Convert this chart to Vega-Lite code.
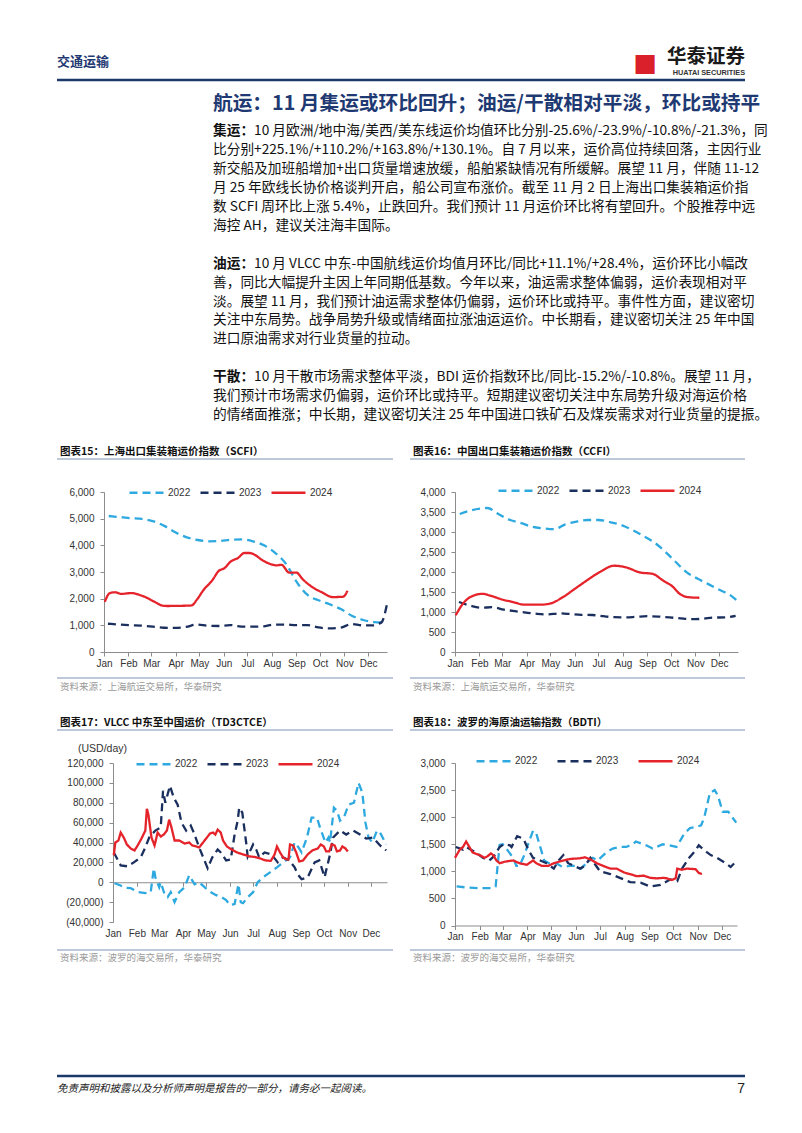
{
"$schema": "https://vega.github.io/schema/vega-lite/v6.json",
"padding": 0,
"background": "white",
"spacing": 0,
"resolve": {"scale": {"color": "independent", "strokeDash": "independent"}},
"config": {
  "view": {"stroke": null},
  "axis": {"labelFont": "Liberation Sans", "labelFontSize": 10, "labelColor": "#333333", "domainColor": "#8c8c8c", "tickColor": "#8c8c8c", "tickSize": 4, "grid": false, "labelFlush": false, "labelOverlap": false, "labelBound": false},
  "axisX": {"labelPadding": 2},
  "axisY": {"labelPadding": 6},
  "legend": {"orient": "none", "direction": "horizontal", "symbolType": "stroke", "symbolSize": 1156, "symbolStrokeWidth": 2.3, "labelFont": "Liberation Sans", "labelFontSize": 10, "labelColor": "#333333", "labelOffset": 3, "columnPadding": 4, "title": null}
},
"datasets": {
  "scfi": [
    {"date":"2022-01-07","year":"2022","value":5100},{"date":"2022-01-21","year":"2022","value":5060},{"date":"2022-02-04","year":"2022","value":5020},{"date":"2022-02-18","year":"2022","value":4990},{"date":"2022-03-04","year":"2022","value":4900},{"date":"2022-03-18","year":"2022","value":4720},{"date":"2022-04-01","year":"2022","value":4480},{"date":"2022-04-15","year":"2022","value":4300},{"date":"2022-04-29","year":"2022","value":4200},{"date":"2022-05-13","year":"2022","value":4150},{"date":"2022-05-27","year":"2022","value":4160},{"date":"2022-06-10","year":"2022","value":4210},{"date":"2022-06-24","year":"2022","value":4220},{"date":"2022-07-08","year":"2022","value":4150},{"date":"2022-07-22","year":"2022","value":4000},{"date":"2022-08-05","year":"2022","value":3720},{"date":"2022-08-19","year":"2022","value":3300},{"date":"2022-09-02","year":"2022","value":2600},{"date":"2022-09-16","year":"2022","value":2120},{"date":"2022-09-30","year":"2022","value":1930},{"date":"2022-10-14","year":"2022","value":1780},{"date":"2022-10-28","year":"2022","value":1600},{"date":"2022-11-11","year":"2022","value":1350},{"date":"2022-11-25","year":"2022","value":1200},{"date":"2022-12-09","year":"2022","value":1120},{"date":"2022-12-23","year":"2022","value":1105},
    {"date":"2023-01-06","year":"2023","value":1060},{"date":"2023-01-20","year":"2023","value":1030},{"date":"2023-02-03","year":"2023","value":1005},{"date":"2023-02-17","year":"2023","value":990},{"date":"2023-03-03","year":"2023","value":950},{"date":"2023-03-17","year":"2023","value":910},{"date":"2023-03-31","year":"2023","value":905},{"date":"2023-04-14","year":"2023","value":940},{"date":"2023-04-28","year":"2023","value":1030},{"date":"2023-05-12","year":"2023","value":985},{"date":"2023-05-26","year":"2023","value":975},{"date":"2023-06-09","year":"2023","value":1010},{"date":"2023-06-23","year":"2023","value":955},{"date":"2023-07-07","year":"2023","value":950},{"date":"2023-07-21","year":"2023","value":960},{"date":"2023-08-04","year":"2023","value":1030},{"date":"2023-08-18","year":"2023","value":1030},{"date":"2023-09-01","year":"2023","value":1010},{"date":"2023-09-15","year":"2023","value":1010},{"date":"2023-09-29","year":"2023","value":920},{"date":"2023-10-13","year":"2023","value":886},{"date":"2023-10-27","year":"2023","value":910},{"date":"2023-11-10","year":"2023","value":1050},{"date":"2023-11-24","year":"2023","value":1000},{"date":"2023-12-08","year":"2023","value":1000},{"date":"2023-12-12","year":"2023","value":1040},{"date":"2023-12-18","year":"2023","value":1107},{"date":"2023-12-25","year":"2023","value":1790},
    {"date":"2024-01-02","year":"2024","value":1880},{"date":"2024-01-08","year":"2024","value":2200},{"date":"2024-01-15","year":"2024","value":2240},{"date":"2024-01-23","year":"2024","value":2180},{"date":"2024-02-05","year":"2024","value":2210},{"date":"2024-02-17","year":"2024","value":2120},{"date":"2024-02-24","year":"2024","value":2040},{"date":"2024-03-02","year":"2024","value":1930},{"date":"2024-03-09","year":"2024","value":1820},{"date":"2024-03-15","year":"2024","value":1740},{"date":"2024-03-22","year":"2024","value":1725},{"date":"2024-04-01","year":"2024","value":1730},{"date":"2024-04-12","year":"2024","value":1735},{"date":"2024-04-21","year":"2024","value":1745},{"date":"2024-04-28","year":"2024","value":1970},{"date":"2024-05-06","year":"2024","value":2315},{"date":"2024-05-18","year":"2024","value":2715},{"date":"2024-05-25","year":"2024","value":3025},{"date":"2024-06-02","year":"2024","value":3150},{"date":"2024-06-10","year":"2024","value":3400},{"date":"2024-06-19","year":"2024","value":3525},{"date":"2024-06-27","year":"2024","value":3712},{"date":"2024-07-04","year":"2024","value":3712},{"date":"2024-07-10","year":"2024","value":3650},{"date":"2024-07-19","year":"2024","value":3460},{"date":"2024-07-29","year":"2024","value":3310},{"date":"2024-08-07","year":"2024","value":3250},{"date":"2024-08-13","year":"2024","value":3270},{"date":"2024-08-23","year":"2024","value":2978},{"date":"2024-09-01","year":"2024","value":2978},{"date":"2024-09-09","year":"2024","value":2730},{"date":"2024-09-22","year":"2024","value":2420},{"date":"2024-10-04","year":"2024","value":2230},{"date":"2024-10-17","year":"2024","value":2060},{"date":"2024-10-30","year":"2024","value":2070},{"date":"2024-11-05","year":"2024","value":2300}
  ],
  "ccfi": [
    {"date":"2022-01-07","year":"2022","value":3450},{"date":"2022-01-21","year":"2022","value":3540},{"date":"2022-02-04","year":"2022","value":3590},{"date":"2022-02-11","year":"2022","value":3600},{"date":"2022-02-25","year":"2022","value":3450},{"date":"2022-03-11","year":"2022","value":3300},{"date":"2022-03-25","year":"2022","value":3220},{"date":"2022-04-08","year":"2022","value":3130},{"date":"2022-04-22","year":"2022","value":3090},{"date":"2022-05-06","year":"2022","value":3070},{"date":"2022-05-20","year":"2022","value":3190},{"date":"2022-06-03","year":"2022","value":3260},{"date":"2022-06-17","year":"2022","value":3300},{"date":"2022-07-01","year":"2022","value":3300},{"date":"2022-07-15","year":"2022","value":3250},{"date":"2022-07-29","year":"2022","value":3180},{"date":"2022-08-12","year":"2022","value":3060},{"date":"2022-08-26","year":"2022","value":2910},{"date":"2022-09-09","year":"2022","value":2750},{"date":"2022-09-23","year":"2022","value":2520},{"date":"2022-10-07","year":"2022","value":2250},{"date":"2022-10-21","year":"2022","value":1990},{"date":"2022-11-04","year":"2022","value":1830},{"date":"2022-11-18","year":"2022","value":1690},{"date":"2022-12-02","year":"2022","value":1550},{"date":"2022-12-16","year":"2022","value":1410},{"date":"2022-12-23","year":"2022","value":1300},
    {"date":"2023-01-06","year":"2023","value":1250},{"date":"2023-01-20","year":"2023","value":1160},{"date":"2023-02-03","year":"2023","value":1105},{"date":"2023-02-17","year":"2023","value":1120},{"date":"2023-03-03","year":"2023","value":1060},{"date":"2023-03-17","year":"2023","value":1020},{"date":"2023-03-31","year":"2023","value":985},{"date":"2023-04-14","year":"2023","value":955},{"date":"2023-04-28","year":"2023","value":940},{"date":"2023-05-12","year":"2023","value":965},{"date":"2023-05-26","year":"2023","value":950},{"date":"2023-06-09","year":"2023","value":930},{"date":"2023-06-23","year":"2023","value":925},{"date":"2023-07-07","year":"2023","value":895},{"date":"2023-07-21","year":"2023","value":870},{"date":"2023-08-04","year":"2023","value":865},{"date":"2023-08-18","year":"2023","value":880},{"date":"2023-09-01","year":"2023","value":895},{"date":"2023-09-15","year":"2023","value":885},{"date":"2023-09-29","year":"2023","value":865},{"date":"2023-10-13","year":"2023","value":840},{"date":"2023-10-27","year":"2023","value":820},{"date":"2023-11-10","year":"2023","value":830},{"date":"2023-11-24","year":"2023","value":860},{"date":"2023-12-08","year":"2023","value":865},{"date":"2023-12-22","year":"2023","value":905},
    {"date":"2024-01-02","year":"2024","value":920},{"date":"2024-01-11","year":"2024","value":1207},{"date":"2024-01-22","year":"2024","value":1389},{"date":"2024-02-05","year":"2024","value":1455},{"date":"2024-02-14","year":"2024","value":1413},{"date":"2024-03-02","year":"2024","value":1306},{"date":"2024-03-15","year":"2024","value":1248},{"date":"2024-03-29","year":"2024","value":1182},{"date":"2024-04-17","year":"2024","value":1182},{"date":"2024-04-30","year":"2024","value":1207},{"date":"2024-05-17","year":"2024","value":1373},{"date":"2024-06-01","year":"2024","value":1579},{"date":"2024-06-16","year":"2024","value":1786},{"date":"2024-07-02","year":"2024","value":1992},{"date":"2024-07-21","year":"2024","value":2157},{"date":"2024-08-05","year":"2024","value":2117},{"date":"2024-08-22","year":"2024","value":1992},{"date":"2024-09-08","year":"2024","value":1951},{"date":"2024-09-21","year":"2024","value":1786},{"date":"2024-10-03","year":"2024","value":1637},{"date":"2024-10-12","year":"2024","value":1455},{"date":"2024-10-22","year":"2024","value":1373},{"date":"2024-11-06","year":"2024","value":1356}
  ],
  "td3c": [
    {"date":"2022-01-03","year":"2022","value":-1000},{"date":"2022-01-10","year":"2022","value":-3000},{"date":"2022-01-17","year":"2022","value":-5600},{"date":"2022-01-24","year":"2022","value":-6000},{"date":"2022-02-03","year":"2022","value":-10000},{"date":"2022-02-12","year":"2022","value":-11000},{"date":"2022-02-19","year":"2022","value":-10000},{"date":"2022-02-23","year":"2022","value":14000},{"date":"2022-02-25","year":"2022","value":5000},{"date":"2022-03-01","year":"2022","value":-5000},{"date":"2022-03-03","year":"2022","value":0},{"date":"2022-03-08","year":"2022","value":-12000},{"date":"2022-03-12","year":"2022","value":-15000},{"date":"2022-03-16","year":"2022","value":-10000},{"date":"2022-03-21","year":"2022","value":-20000},{"date":"2022-03-27","year":"2022","value":-10000},{"date":"2022-04-03","year":"2022","value":-5000},{"date":"2022-04-09","year":"2022","value":7000},{"date":"2022-04-16","year":"2022","value":-2000},{"date":"2022-04-22","year":"2022","value":0},{"date":"2022-04-29","year":"2022","value":-5000},{"date":"2022-05-05","year":"2022","value":-9000},{"date":"2022-05-14","year":"2022","value":-13000},{"date":"2022-05-21","year":"2022","value":-15000},{"date":"2022-05-27","year":"2022","value":-18000},{"date":"2022-06-01","year":"2022","value":-23000},{"date":"2022-06-07","year":"2022","value":-22000},{"date":"2022-06-12","year":"2022","value":-2000},{"date":"2022-06-15","year":"2022","value":-20000},{"date":"2022-06-18","year":"2022","value":-21000},{"date":"2022-06-24","year":"2022","value":-15000},{"date":"2022-07-01","year":"2022","value":-10000},{"date":"2022-07-07","year":"2022","value":0},{"date":"2022-07-14","year":"2022","value":5000},{"date":"2022-07-23","year":"2022","value":10000},{"date":"2022-08-01","year":"2022","value":15000},{"date":"2022-08-09","year":"2022","value":20000},{"date":"2022-08-18","year":"2022","value":25000},{"date":"2022-08-24","year":"2022","value":40000},{"date":"2022-08-29","year":"2022","value":35000},{"date":"2022-09-02","year":"2022","value":30000},{"date":"2022-09-09","year":"2022","value":45000},{"date":"2022-09-15","year":"2022","value":65000},{"date":"2022-09-22","year":"2022","value":65000},{"date":"2022-09-26","year":"2022","value":55000},{"date":"2022-10-03","year":"2022","value":40000},{"date":"2022-10-07","year":"2022","value":45000},{"date":"2022-10-09","year":"2022","value":40000},{"date":"2022-10-14","year":"2022","value":75000},{"date":"2022-10-18","year":"2022","value":72000},{"date":"2022-10-22","year":"2022","value":62000},{"date":"2022-10-27","year":"2022","value":65000},{"date":"2022-11-02","year":"2022","value":78000},{"date":"2022-11-09","year":"2022","value":80000},{"date":"2022-11-15","year":"2022","value":100000},{"date":"2022-11-20","year":"2022","value":90000},{"date":"2022-11-24","year":"2022","value":60000},{"date":"2022-11-28","year":"2022","value":45000},{"date":"2022-12-03","year":"2022","value":40000},{"date":"2022-12-09","year":"2022","value":52000},{"date":"2022-12-13","year":"2022","value":50000},{"date":"2022-12-21","year":"2022","value":38000},
    {"date":"2023-01-02","year":"2023","value":30000},{"date":"2023-01-11","year":"2023","value":17000},{"date":"2023-01-20","year":"2023","value":16000},{"date":"2023-01-28","year":"2023","value":20000},{"date":"2023-02-06","year":"2023","value":25000},{"date":"2023-02-12","year":"2023","value":35000},{"date":"2023-02-17","year":"2023","value":45000},{"date":"2023-02-25","year":"2023","value":52000},{"date":"2023-03-03","year":"2023","value":55000},{"date":"2023-03-06","year":"2023","value":92000},{"date":"2023-03-09","year":"2023","value":80000},{"date":"2023-03-15","year":"2023","value":97000},{"date":"2023-03-20","year":"2023","value":85000},{"date":"2023-03-25","year":"2023","value":78000},{"date":"2023-03-30","year":"2023","value":60000},{"date":"2023-04-05","year":"2023","value":52000},{"date":"2023-04-11","year":"2023","value":57000},{"date":"2023-04-15","year":"2023","value":50000},{"date":"2023-04-22","year":"2023","value":35000},{"date":"2023-05-03","year":"2023","value":14000},{"date":"2023-05-09","year":"2023","value":25000},{"date":"2023-05-16","year":"2023","value":33000},{"date":"2023-05-20","year":"2023","value":30000},{"date":"2023-05-27","year":"2023","value":22000},{"date":"2023-06-02","year":"2023","value":23000},{"date":"2023-06-07","year":"2023","value":48000},{"date":"2023-06-11","year":"2023","value":62000},{"date":"2023-06-13","year":"2023","value":75000},{"date":"2023-06-17","year":"2023","value":70000},{"date":"2023-06-22","year":"2023","value":40000},{"date":"2023-06-24","year":"2023","value":26000},{"date":"2023-07-01","year":"2023","value":38000},{"date":"2023-07-05","year":"2023","value":33000},{"date":"2023-07-09","year":"2023","value":25000},{"date":"2023-07-16","year":"2023","value":30000},{"date":"2023-07-25","year":"2023","value":28000},{"date":"2023-08-02","year":"2023","value":20000},{"date":"2023-08-09","year":"2023","value":25000},{"date":"2023-08-17","year":"2023","value":22000},{"date":"2023-08-24","year":"2023","value":15000},{"date":"2023-08-28","year":"2023","value":8000},{"date":"2023-09-02","year":"2023","value":3000},{"date":"2023-09-10","year":"2023","value":5000},{"date":"2023-09-19","year":"2023","value":20000},{"date":"2023-09-25","year":"2023","value":22000},{"date":"2023-10-02","year":"2023","value":5000},{"date":"2023-10-04","year":"2023","value":12000},{"date":"2023-10-09","year":"2023","value":28000},{"date":"2023-10-13","year":"2023","value":45000},{"date":"2023-10-22","year":"2023","value":52000},{"date":"2023-10-30","year":"2023","value":48000},{"date":"2023-11-08","year":"2023","value":52000},{"date":"2023-11-17","year":"2023","value":48000},{"date":"2023-11-25","year":"2023","value":44000},{"date":"2023-12-04","year":"2023","value":45000},{"date":"2023-12-13","year":"2023","value":37000},{"date":"2023-12-21","year":"2023","value":32000},
    {"date":"2024-01-02","year":"2024","value":27000},{"date":"2024-01-04","year":"2024","value":40000},{"date":"2024-01-08","year":"2024","value":42000},{"date":"2024-01-11","year":"2024","value":50000},{"date":"2024-01-15","year":"2024","value":45000},{"date":"2024-01-19","year":"2024","value":38000},{"date":"2024-01-24","year":"2024","value":34000},{"date":"2024-01-29","year":"2024","value":32000},{"date":"2024-02-02","year":"2024","value":37000},{"date":"2024-02-07","year":"2024","value":44000},{"date":"2024-02-12","year":"2024","value":52000},{"date":"2024-02-14","year":"2024","value":74000},{"date":"2024-02-16","year":"2024","value":68000},{"date":"2024-02-20","year":"2024","value":45000},{"date":"2024-02-24","year":"2024","value":37000},{"date":"2024-02-28","year":"2024","value":50000},{"date":"2024-03-03","year":"2024","value":46000},{"date":"2024-03-07","year":"2024","value":48000},{"date":"2024-03-11","year":"2024","value":52000},{"date":"2024-03-14","year":"2024","value":63000},{"date":"2024-03-17","year":"2024","value":55000},{"date":"2024-03-21","year":"2024","value":42000},{"date":"2024-03-27","year":"2024","value":42000},{"date":"2024-04-03","year":"2024","value":39000},{"date":"2024-04-09","year":"2024","value":40000},{"date":"2024-04-13","year":"2024","value":37000},{"date":"2024-04-18","year":"2024","value":36000},{"date":"2024-04-22","year":"2024","value":35000},{"date":"2024-04-26","year":"2024","value":39000},{"date":"2024-04-30","year":"2024","value":43000},{"date":"2024-05-06","year":"2024","value":49000},{"date":"2024-05-10","year":"2024","value":50000},{"date":"2024-05-13","year":"2024","value":48000},{"date":"2024-05-16","year":"2024","value":53000},{"date":"2024-05-20","year":"2024","value":50000},{"date":"2024-05-23","year":"2024","value":42000},{"date":"2024-05-28","year":"2024","value":36000},{"date":"2024-06-03","year":"2024","value":33000},{"date":"2024-06-10","year":"2024","value":30000},{"date":"2024-06-18","year":"2024","value":28000},{"date":"2024-06-26","year":"2024","value":26000},{"date":"2024-07-03","year":"2024","value":25500},{"date":"2024-07-10","year":"2024","value":24000},{"date":"2024-07-17","year":"2024","value":22000},{"date":"2024-07-24","year":"2024","value":21500},{"date":"2024-07-29","year":"2024","value":28000},{"date":"2024-08-01","year":"2024","value":36000},{"date":"2024-08-05","year":"2024","value":30000},{"date":"2024-08-09","year":"2024","value":25000},{"date":"2024-08-13","year":"2024","value":23000},{"date":"2024-08-16","year":"2024","value":23000},{"date":"2024-08-18","year":"2024","value":38000},{"date":"2024-08-22","year":"2024","value":37000},{"date":"2024-08-26","year":"2024","value":30000},{"date":"2024-08-30","year":"2024","value":21000},{"date":"2024-09-04","year":"2024","value":22000},{"date":"2024-09-10","year":"2024","value":28000},{"date":"2024-09-16","year":"2024","value":32000},{"date":"2024-09-23","year":"2024","value":34000},{"date":"2024-09-27","year":"2024","value":38000},{"date":"2024-10-01","year":"2024","value":36000},{"date":"2024-10-04","year":"2024","value":31000},{"date":"2024-10-08","year":"2024","value":31000},{"date":"2024-10-11","year":"2024","value":38000},{"date":"2024-10-15","year":"2024","value":37000},{"date":"2024-10-18","year":"2024","value":31000},{"date":"2024-10-22","year":"2024","value":32000},{"date":"2024-10-25","year":"2024","value":36000},{"date":"2024-10-29","year":"2024","value":34000},{"date":"2024-11-01","year":"2024","value":31000}
  ],
  "bdti": [
    {"date":"2022-01-03","year":"2022","value":722},{"date":"2022-01-17","year":"2022","value":700},{"date":"2022-02-01","year":"2022","value":690},{"date":"2022-02-17","year":"2022","value":690},{"date":"2022-02-21","year":"2022","value":720},{"date":"2022-02-26","year":"2022","value":1488},{"date":"2022-03-01","year":"2022","value":1500},{"date":"2022-03-09","year":"2022","value":1350},{"date":"2022-03-14","year":"2022","value":1250},{"date":"2022-03-18","year":"2022","value":1100},{"date":"2022-03-22","year":"2022","value":1100},{"date":"2022-03-28","year":"2022","value":1300},{"date":"2022-04-03","year":"2022","value":1550},{"date":"2022-04-08","year":"2022","value":1750},{"date":"2022-04-12","year":"2022","value":1700},{"date":"2022-04-16","year":"2022","value":1500},{"date":"2022-04-22","year":"2022","value":1200},{"date":"2022-04-28","year":"2022","value":1150},{"date":"2022-05-07","year":"2022","value":1150},{"date":"2022-05-15","year":"2022","value":1080},{"date":"2022-05-24","year":"2022","value":1100},{"date":"2022-06-01","year":"2022","value":1100},{"date":"2022-06-07","year":"2022","value":1050},{"date":"2022-06-14","year":"2022","value":1150},{"date":"2022-06-22","year":"2022","value":1250},{"date":"2022-06-28","year":"2022","value":1200},{"date":"2022-07-09","year":"2022","value":1350},{"date":"2022-07-17","year":"2022","value":1420},{"date":"2022-07-26","year":"2022","value":1450},{"date":"2022-08-03","year":"2022","value":1450},{"date":"2022-08-11","year":"2022","value":1500},{"date":"2022-08-15","year":"2022","value":1550},{"date":"2022-08-28","year":"2022","value":1480},{"date":"2022-09-05","year":"2022","value":1420},{"date":"2022-09-18","year":"2022","value":1500},{"date":"2022-09-26","year":"2022","value":1480},{"date":"2022-10-05","year":"2022","value":1450},{"date":"2022-10-09","year":"2022","value":1550},{"date":"2022-10-15","year":"2022","value":1700},{"date":"2022-10-22","year":"2022","value":1800},{"date":"2022-10-30","year":"2022","value":1820},{"date":"2022-11-05","year":"2022","value":1850},{"date":"2022-11-09","year":"2022","value":2000},{"date":"2022-11-16","year":"2022","value":2450},{"date":"2022-11-22","year":"2022","value":2500},{"date":"2022-11-26","year":"2022","value":2400},{"date":"2022-12-02","year":"2022","value":2100},{"date":"2022-12-09","year":"2022","value":2100},{"date":"2022-12-19","year":"2022","value":1900},
    {"date":"2023-01-02","year":"2023","value":1450},{"date":"2023-01-11","year":"2023","value":1400},{"date":"2023-01-15","year":"2023","value":1450},{"date":"2023-01-21","year":"2023","value":1400},{"date":"2023-01-27","year":"2023","value":1350},{"date":"2023-02-05","year":"2023","value":1250},{"date":"2023-02-13","year":"2023","value":1200},{"date":"2023-02-19","year":"2023","value":1280},{"date":"2023-02-26","year":"2023","value":1450},{"date":"2023-03-02","year":"2023","value":1500},{"date":"2023-03-10","year":"2023","value":1480},{"date":"2023-03-12","year":"2023","value":1450},{"date":"2023-03-19","year":"2023","value":1650},{"date":"2023-03-27","year":"2023","value":1600},{"date":"2023-04-02","year":"2023","value":1400},{"date":"2023-04-08","year":"2023","value":1250},{"date":"2023-04-17","year":"2023","value":1200},{"date":"2023-04-25","year":"2023","value":1150},{"date":"2023-05-04","year":"2023","value":1050},{"date":"2023-05-10","year":"2023","value":1200},{"date":"2023-05-16","year":"2023","value":1300},{"date":"2023-05-22","year":"2023","value":1150},{"date":"2023-06-06","year":"2023","value":1050},{"date":"2023-06-12","year":"2023","value":1100},{"date":"2023-06-19","year":"2023","value":1250},{"date":"2023-07-01","year":"2023","value":1000},{"date":"2023-07-14","year":"2023","value":950},{"date":"2023-07-26","year":"2023","value":880},{"date":"2023-08-08","year":"2023","value":800},{"date":"2023-08-21","year":"2023","value":790},{"date":"2023-09-02","year":"2023","value":720},{"date":"2023-09-15","year":"2023","value":750},{"date":"2023-09-27","year":"2023","value":850},{"date":"2023-10-06","year":"2023","value":820},{"date":"2023-10-12","year":"2023","value":1050},{"date":"2023-10-21","year":"2023","value":1250},{"date":"2023-10-27","year":"2023","value":1350},{"date":"2023-11-02","year":"2023","value":1480},{"date":"2023-11-08","year":"2023","value":1400},{"date":"2023-11-17","year":"2023","value":1300},{"date":"2023-11-25","year":"2023","value":1250},{"date":"2023-12-06","year":"2023","value":1150},{"date":"2023-12-12","year":"2023","value":1080},{"date":"2023-12-20","year":"2023","value":1200},
    {"date":"2024-01-01","year":"2024","value":1250},{"date":"2024-01-07","year":"2024","value":1400},{"date":"2024-01-11","year":"2024","value":1450},{"date":"2024-01-15","year":"2024","value":1550},{"date":"2024-01-17","year":"2024","value":1500},{"date":"2024-01-19","year":"2024","value":1450},{"date":"2024-01-23","year":"2024","value":1350},{"date":"2024-01-28","year":"2024","value":1320},{"date":"2024-02-01","year":"2024","value":1300},{"date":"2024-02-07","year":"2024","value":1250},{"date":"2024-02-11","year":"2024","value":1280},{"date":"2024-02-15","year":"2024","value":1330},{"date":"2024-02-18","year":"2024","value":1300},{"date":"2024-02-22","year":"2024","value":1200},{"date":"2024-02-26","year":"2024","value":1150},{"date":"2024-03-04","year":"2024","value":1180},{"date":"2024-03-14","year":"2024","value":1200},{"date":"2024-03-22","year":"2024","value":1150},{"date":"2024-03-31","year":"2024","value":1120},{"date":"2024-04-08","year":"2024","value":1200},{"date":"2024-04-12","year":"2024","value":1150},{"date":"2024-04-19","year":"2024","value":1100},{"date":"2024-04-27","year":"2024","value":1100},{"date":"2024-05-04","year":"2024","value":1150},{"date":"2024-05-16","year":"2024","value":1200},{"date":"2024-05-25","year":"2024","value":1230},{"date":"2024-06-06","year":"2024","value":1240},{"date":"2024-06-12","year":"2024","value":1260},{"date":"2024-06-19","year":"2024","value":1220},{"date":"2024-06-27","year":"2024","value":1150},{"date":"2024-07-05","year":"2024","value":1100},{"date":"2024-07-14","year":"2024","value":1050},{"date":"2024-07-22","year":"2024","value":1050},{"date":"2024-07-31","year":"2024","value":980},{"date":"2024-08-12","year":"2024","value":930},{"date":"2024-08-16","year":"2024","value":910},{"date":"2024-08-25","year":"2024","value":920},{"date":"2024-09-02","year":"2024","value":880},{"date":"2024-09-10","year":"2024","value":870},{"date":"2024-09-19","year":"2024","value":880},{"date":"2024-09-23","year":"2024","value":870},{"date":"2024-09-29","year":"2024","value":840},{"date":"2024-10-04","year":"2024","value":870},{"date":"2024-10-06","year":"2024","value":1050},{"date":"2024-10-12","year":"2024","value":1030},{"date":"2024-10-18","year":"2024","value":1050},{"date":"2024-10-29","year":"2024","value":1040},{"date":"2024-11-02","year":"2024","value":970},{"date":"2024-11-06","year":"2024","value":950}
  ]
},
"vconcat": [
  {"hconcat": [
    {"width": 57, "height": 1, "data": {"values": []}, "mark": "point", "encoding": {}},
    {"width": 688, "height": 80,
     "data": {"values": [{"section": "交通运输", "brand": "华泰证券", "brandEn": "HUATAI SECURITIES", "icon": "■"}]},
     "encoding": {
       "x": {"datum": 0, "type": "quantitative", "scale": {"domain": [0, 1]}, "axis": null},
       "y": {"datum": 0, "type": "quantitative", "scale": {"domain": [0, 1]}, "axis": null}
     },
     "layer": [
       {"mark": {"type": "text", "align": "left", "baseline": "middle", "dy": -18, "font": "Noto Sans CJK SC", "fontSize": 13, "fontWeight": "bold", "color": "#1F3A73"}, "encoding": {"text": {"field": "section"}}},
       {"mark": {"type": "text", "align": "right", "baseline": "middle", "dy": -23.5, "font": "Noto Sans CJK SC", "fontSize": 19.5, "fontWeight": "bold", "color": "#1a1a1a"}, "encoding": {"x": {"datum": 1, "type": "quantitative"}, "text": {"field": "brand"}}},
       {"mark": {"type": "text", "align": "right", "baseline": "middle", "dy": -7, "font": "Liberation Sans", "fontSize": 7.3, "fontWeight": "bold", "color": "#333333"}, "encoding": {"x": {"datum": 1, "type": "quantitative"}, "text": {"field": "brandEn"}}},
       {"mark": {"type": "text", "align": "right", "baseline": "middle", "dx": -88, "dy": -17, "font": "DejaVu Sans", "fontSize": 25, "color": "#D9202B"}, "encoding": {"x": {"datum": 1, "type": "quantitative"}, "text": {"field": "icon"}}},
       {"mark": {"type": "rule", "color": "#1B3A6B", "strokeWidth": 2.5}, "encoding": {"x": null}}
     ]
    }
  ], "spacing": 0, "bounds": "flush"},
  {"hconcat": [
    {"width": 213, "height": 1, "data": {"values": []}, "mark": "point", "encoding": {}},
    {"width": 549, "height": 40,
     "data": {"values": [{"title": "航运：11 月集运或环比回升；油运/干散相对平淡，环比或持平"}]},
     "mark": {"type": "text", "align": "left", "baseline": "middle", "dy": 2, "font": "Noto Sans CJK SC", "fontSize": 19.7, "fontWeight": "bold", "color": "#1F3A73"},
     "encoding": {
       "x": {"datum": 0, "type": "quantitative", "scale": {"domain": [0, 1]}, "axis": null},
       "y": {"datum": 0.5, "type": "quantitative", "scale": {"domain": [0, 1]}, "axis": null},
       "text": {"field": "title"}
     }
    }
  ], "spacing": 0, "bounds": "flush"},
  {"hconcat": [
    {"width": 213, "height": 1, "data": {"values": []}, "mark": "point", "encoding": {}},
    {"width": 549, "height": 302.4,
     "data": {"values": [
       {"line": 0, "lead": "集运：", "text": "10 月欧洲/地中海/美西/美东线运价均值环比分别-25.6%/-23.9%/-10.8%/-21.3%，同"},
       {"line": 1, "lead": "", "text": "比分别+225.1%/+110.2%/+163.8%/+130.1%。自 7 月以来，运价高位持续回落，主因行业"},
       {"line": 2, "lead": "", "text": "新交船及加班船增加+出口货量增速放缓，船舶紧缺情况有所缓解。展望 11 月，伴随 11-12"},
       {"line": 3, "lead": "", "text": "月 25 年欧线长协价格谈判开启，船公司宣布涨价。截至 11 月 2 日上海出口集装箱运价指"},
       {"line": 4, "lead": "", "text": "数 SCFI 周环比上涨 5.4%，止跌回升。我们预计 11 月运价环比将有望回升。个股推荐中远"},
       {"line": 5, "lead": "", "text": "海控 AH，建议关注海丰国际。"},
       {"line": 7, "lead": "油运：", "text": "10 月 VLCC 中东-中国航线运价均值月环比/同比+11.1%/+28.4%，运价环比小幅改"},
       {"line": 8, "lead": "", "text": "善，同比大幅提升主因上年同期低基数。今年以来，油运需求整体偏弱，运价表现相对平"},
       {"line": 9, "lead": "", "text": "淡。展望 11 月，我们预计油运需求整体仍偏弱，运价环比或持平。事件性方面，建议密切"},
       {"line": 10, "lead": "", "text": "关注中东局势。战争局势升级或情绪面拉涨油运运价。中长期看，建议密切关注 25 年中国"},
       {"line": 11, "lead": "", "text": "进口原油需求对行业货量的拉动。"},
       {"line": 13, "lead": "干散：", "text": "10 月干散市场需求整体平淡，BDI 运价指数环比/同比-15.2%/-10.8%。展望 11 月，"},
       {"line": 14, "lead": "", "text": "我们预计市场需求仍偏弱，运价环比或持平。短期建议密切关注中东局势升级对海运价格"},
       {"line": 15, "lead": "", "text": "的情绪面推涨；中长期，建议密切关注 25 年中国进口铁矿石及煤炭需求对行业货量的提振。"}
     ]},
     "encoding": {
       "x": {"datum": 0, "type": "quantitative", "scale": {"domain": [0, 1]}, "axis": null},
       "y": {"field": "line", "type": "ordinal", "scale": {"type": "band", "domain": [0,1,2,3,4,5,6,7,8,9,10,11,12,13,14,15], "paddingInner": 0, "paddingOuter": 0}, "axis": null}
     },
     "layer": [
       {"transform": [{"filter": "datum.lead != ''"}], "mark": {"type": "text", "align": "left", "baseline": "middle", "font": "Noto Sans CJK SC", "fontSize": 13.7, "fontWeight": "bold", "color": "#111111"}, "encoding": {"text": {"field": "lead"}}},
       {"transform": [{"filter": "datum.lead != ''"}], "mark": {"type": "text", "align": "left", "baseline": "middle", "dx": 41.1, "font": "Noto Sans CJK SC", "fontSize": 13.7, "color": "#111111"}, "encoding": {"text": {"field": "text"}}},
       {"transform": [{"filter": "datum.lead == ''"}], "mark": {"type": "text", "align": "left", "baseline": "middle", "font": "Noto Sans CJK SC", "fontSize": 13.7, "color": "#111111"}, "encoding": {"text": {"field": "text"}}}
     ]
    }
  ], "spacing": 0, "bounds": "flush"},
  {"hconcat": [
    {"width": 57, "height": 1, "data": {"values": []}, "mark": "point", "encoding": {}},
    {"width": 336, "height": 34, "data": {"values": [{"label": "图表15：上海出口集装箱运价指数（SCFI）"}]},
     "encoding": {"y": {"datum": 0, "type": "quantitative", "scale": {"domain": [0, 1]}, "axis": null}},
     "layer": [
       {"mark": {"type": "text", "align": "left", "baseline": "middle", "dx": 3, "dy": -7.5, "font": "Noto Sans CJK SC", "fontSize": 10.5, "fontWeight": "bold", "color": "#111111"}, "encoding": {"x": {"datum": 0, "type": "quantitative", "scale": {"domain": [0, 1]}, "axis": null}, "text": {"field": "label"}}},
       {"mark": {"type": "rule", "color": "#A7B7CC", "strokeWidth": 1.5}, "encoding": {}}
     ]},
    {"width": 17, "height": 1, "data": {"values": []}, "mark": "point", "encoding": {}},
    {"width": 335, "height": 34, "data": {"values": [{"label": "图表16：中国出口集装箱运价指数（CCFI）"}]},
     "encoding": {"y": {"datum": 0, "type": "quantitative", "scale": {"domain": [0, 1]}, "axis": null}},
     "layer": [
       {"mark": {"type": "text", "align": "left", "baseline": "middle", "dx": 3, "dy": -7.5, "font": "Noto Sans CJK SC", "fontSize": 10.5, "fontWeight": "bold", "color": "#111111"}, "encoding": {"x": {"datum": 0, "type": "quantitative", "scale": {"domain": [0, 1]}, "axis": null}, "text": {"field": "label"}}},
       {"mark": {"type": "rule", "color": "#A7B7CC", "strokeWidth": 1.5}, "encoding": {}}
     ]}
  ], "spacing": 0, "bounds": "flush"},
  {"width": 1, "height": 11.6, "data": {"values": []}, "mark": "point", "encoding": {}},
  {"hconcat": [
    {"width": 104, "height": 1, "data": {"values": []}, "mark": "point", "encoding": {}},
    {"width": 283, "height": 160, "data": {"name": "scfi"},
     "mark": {"type": "line", "strokeWidth": 2.3, "interpolate": "monotone"},
     "encoding": {
       "x": {"field": "date", "type": "temporal", "timeUnit": "utcmonthdate", "scale": {"domain": [{"year": 2012, "month": 1, "date": 1, "utc": true}, {"year": 2012, "month": 12, "date": 25, "utc": true}]},
             "axis": {"title": null, "format": "%b", "values": [{"year":2012,"month":1,"date":1,"utc":true},{"year":2012,"month":2,"date":1,"utc":true},{"year":2012,"month":3,"date":1,"utc":true},{"year":2012,"month":4,"date":1,"utc":true},{"year":2012,"month":5,"date":1,"utc":true},{"year":2012,"month":6,"date":1,"utc":true},{"year":2012,"month":7,"date":1,"utc":true},{"year":2012,"month":8,"date":1,"utc":true},{"year":2012,"month":9,"date":1,"utc":true},{"year":2012,"month":10,"date":1,"utc":true},{"year":2012,"month":11,"date":1,"utc":true},{"year":2012,"month":12,"date":1,"utc":true}]}},
       "y": {"field": "value", "type": "quantitative", "scale": {"domain": [0, 6000], "nice": false}, "axis": {"title": null, "values": [0,1000,2000,3000,4000,5000,6000], "format": ",.0f"}},
       "color": {"field": "year", "type": "nominal", "scale": {"domain": ["2022","2023","2024"], "range": ["#2EA9E0","#1B2F5E","#E5232B"]}, "legend": {"legendX": 24, "legendY": -18}},
       "strokeDash": {"field": "year", "type": "nominal", "scale": {"domain": ["2022","2023","2024"], "range": [[8,5],[8,5],[1,0]]}}
     }},
    {"width": 68, "height": 1, "data": {"values": []}, "mark": "point", "encoding": {}},
    {"width": 283, "height": 160, "data": {"name": "ccfi"},
     "mark": {"type": "line", "strokeWidth": 2.3, "interpolate": "monotone"},
     "encoding": {
       "x": {"field": "date", "type": "temporal", "timeUnit": "utcmonthdate", "scale": {"domain": [{"year": 2012, "month": 1, "date": 1, "utc": true}, {"year": 2012, "month": 12, "date": 25, "utc": true}]},
             "axis": {"title": null, "format": "%b", "values": [{"year":2012,"month":1,"date":1,"utc":true},{"year":2012,"month":2,"date":1,"utc":true},{"year":2012,"month":3,"date":1,"utc":true},{"year":2012,"month":4,"date":1,"utc":true},{"year":2012,"month":5,"date":1,"utc":true},{"year":2012,"month":6,"date":1,"utc":true},{"year":2012,"month":7,"date":1,"utc":true},{"year":2012,"month":8,"date":1,"utc":true},{"year":2012,"month":9,"date":1,"utc":true},{"year":2012,"month":10,"date":1,"utc":true},{"year":2012,"month":11,"date":1,"utc":true},{"year":2012,"month":12,"date":1,"utc":true}]}},
       "y": {"field": "value", "type": "quantitative", "scale": {"domain": [0, 4000], "nice": false}, "axis": {"title": null, "values": [0,500,1000,1500,2000,2500,3000,3500,4000], "format": ",.0f"}},
       "color": {"field": "year", "type": "nominal", "scale": {"domain": ["2022","2023","2024"], "range": ["#2EA9E0","#1B2F5E","#E5232B"]}, "legend": {"legendX": 42, "legendY": -20}},
       "strokeDash": {"field": "year", "type": "nominal", "scale": {"domain": ["2022","2023","2024"], "range": [[8,5],[8,5],[1,0]]}}
     }}
  ], "spacing": 0, "bounds": "flush", "resolve": {"scale": {"color": "independent", "strokeDash": "independent"}}},
  {"width": 1, "height": 8.75, "data": {"values": []}, "mark": "point", "encoding": {}},
  {"hconcat": [
    {"width": 57, "height": 1, "data": {"values": []}, "mark": "point", "encoding": {}},
    {"width": 336, "height": 20, "data": {"values": [{"label": "资料来源：上海航运交易所，华泰研究"}]},
     "encoding": {"y": {"datum": 1, "type": "quantitative", "scale": {"domain": [0, 1]}, "axis": null}},
     "layer": [
       {"mark": {"type": "text", "align": "left", "baseline": "middle", "dx": 3, "dy": 8.5, "font": "Noto Sans CJK SC", "fontSize": 9.5, "color": "#999999"}, "encoding": {"x": {"datum": 0, "type": "quantitative", "scale": {"domain": [0, 1]}, "axis": null}, "text": {"field": "label"}}},
       {"mark": {"type": "rule", "color": "#A7B7CC", "strokeWidth": 1.5}, "encoding": {}}
     ]},
    {"width": 17, "height": 1, "data": {"values": []}, "mark": "point", "encoding": {}},
    {"width": 335, "height": 20, "data": {"values": [{"label": "资料来源：上海航运交易所，华泰研究"}]},
     "encoding": {"y": {"datum": 1, "type": "quantitative", "scale": {"domain": [0, 1]}, "axis": null}},
     "layer": [
       {"mark": {"type": "text", "align": "left", "baseline": "middle", "dx": 3, "dy": 8.5, "font": "Noto Sans CJK SC", "fontSize": 9.5, "color": "#999999"}, "encoding": {"x": {"datum": 0, "type": "quantitative", "scale": {"domain": [0, 1]}, "axis": null}, "text": {"field": "label"}}},
       {"mark": {"type": "rule", "color": "#A7B7CC", "strokeWidth": 1.5}, "encoding": {}}
     ]}
  ], "spacing": 0, "bounds": "flush"},
  {"hconcat": [
    {"width": 57, "height": 1, "data": {"values": []}, "mark": "point", "encoding": {}},
    {"width": 336, "height": 32, "data": {"values": [{"label": "图表17：VLCC 中东至中国运价（TD3CTCE）"}]},
     "encoding": {"y": {"datum": 0, "type": "quantitative", "scale": {"domain": [0, 1]}, "axis": null}},
     "layer": [
       {"mark": {"type": "text", "align": "left", "baseline": "middle", "dx": 3, "dy": -7, "font": "Noto Sans CJK SC", "fontSize": 10.5, "fontWeight": "bold", "color": "#111111"}, "encoding": {"x": {"datum": 0, "type": "quantitative", "scale": {"domain": [0, 1]}, "axis": null}, "text": {"field": "label"}}},
       {"mark": {"type": "rule", "color": "#A7B7CC", "strokeWidth": 1.5}, "encoding": {}}
     ]},
    {"width": 17, "height": 1, "data": {"values": []}, "mark": "point", "encoding": {}},
    {"width": 335, "height": 32, "data": {"values": [{"label": "图表18：波罗的海原油运输指数（BDTI）"}]},
     "encoding": {"y": {"datum": 0, "type": "quantitative", "scale": {"domain": [0, 1]}, "axis": null}},
     "layer": [
       {"mark": {"type": "text", "align": "left", "baseline": "middle", "dx": 3, "dy": -7, "font": "Noto Sans CJK SC", "fontSize": 10.5, "fontWeight": "bold", "color": "#111111"}, "encoding": {"x": {"datum": 0, "type": "quantitative", "scale": {"domain": [0, 1]}, "axis": null}, "text": {"field": "label"}}},
       {"mark": {"type": "rule", "color": "#A7B7CC", "strokeWidth": 1.5}, "encoding": {}}
     ]}
  ], "spacing": 0, "bounds": "flush"},
  {"width": 1, "height": 10.75, "data": {"values": []}, "mark": "point", "encoding": {}},
  {"hconcat": [
    {"width": 113, "height": 1, "data": {"values": []}, "mark": "point", "encoding": {}},
    {"width": 274, "height": 159, "data": {"name": "td3c"},
     "mark": {"type": "line", "strokeWidth": 2.3},
     "encoding": {
       "x": {"field": "date", "type": "temporal", "timeUnit": "utcmonthdate", "scale": {"domain": [{"year": 2012, "month": 1, "date": 1, "utc": true}, {"year": 2012, "month": 12, "date": 22, "utc": true}]},
             "axis": {"title": null, "format": "%b", "offset": -39.75, "labelPadding": 42, "values": [{"year":2012,"month":1,"date":1,"utc":true},{"year":2012,"month":2,"date":1,"utc":true},{"year":2012,"month":3,"date":1,"utc":true},{"year":2012,"month":4,"date":1,"utc":true},{"year":2012,"month":5,"date":1,"utc":true},{"year":2012,"month":6,"date":1,"utc":true},{"year":2012,"month":7,"date":1,"utc":true},{"year":2012,"month":8,"date":1,"utc":true},{"year":2012,"month":9,"date":1,"utc":true},{"year":2012,"month":10,"date":1,"utc":true},{"year":2012,"month":11,"date":1,"utc":true},{"year":2012,"month":12,"date":1,"utc":true}]}},
       "y": {"field": "value", "type": "quantitative", "scale": {"domain": [-40000, 120000], "nice": false, "zero": false},
             "axis": {"title": "(USD/day)", "titleAngle": 0, "titleX": -11, "titleY": -15, "titleAlign": "center", "titleBaseline": "middle", "titleFont": "Liberation Sans", "titleFontSize": 10.5, "titleFontWeight": "normal", "titleColor": "#333333",
                      "values": [-40000,-20000,0,20000,40000,60000,80000,100000,120000],
                      "labelExpr": "datum.value < 0 ? '(' + format(-datum.value, ',') + ')' : format(datum.value, ',')"}},
       "color": {"field": "year", "type": "nominal", "scale": {"domain": ["2022","2023","2024"], "range": ["#2EA9E0","#1B2F5E","#E5232B"]}, "legend": {"legendX": 22, "legendY": -17.5}},
       "strokeDash": {"field": "year", "type": "nominal", "scale": {"domain": ["2022","2023","2024"], "range": [[8,5],[8,5],[1,0]]}}
     }},
    {"width": 68, "height": 1, "data": {"values": []}, "mark": "point", "encoding": {}},
    {"width": 282, "height": 162.5, "data": {"name": "bdti"},
     "mark": {"type": "line", "strokeWidth": 2.3},
     "encoding": {
       "x": {"field": "date", "type": "temporal", "timeUnit": "utcmonthdate", "scale": {"domain": [{"year": 2012, "month": 1, "date": 1, "utc": true}, {"year": 2012, "month": 12, "date": 20, "utc": true}]},
             "axis": {"title": null, "format": "%b", "values": [{"year":2012,"month":1,"date":1,"utc":true},{"year":2012,"month":2,"date":1,"utc":true},{"year":2012,"month":3,"date":1,"utc":true},{"year":2012,"month":4,"date":1,"utc":true},{"year":2012,"month":5,"date":1,"utc":true},{"year":2012,"month":6,"date":1,"utc":true},{"year":2012,"month":7,"date":1,"utc":true},{"year":2012,"month":8,"date":1,"utc":true},{"year":2012,"month":9,"date":1,"utc":true},{"year":2012,"month":10,"date":1,"utc":true},{"year":2012,"month":11,"date":1,"utc":true},{"year":2012,"month":12,"date":1,"utc":true}]}},
       "y": {"field": "value", "type": "quantitative", "scale": {"domain": [0, 3000], "nice": false}, "axis": {"title": null, "values": [0,500,1000,1500,2000,2500,3000], "format": ",.0f"}},
       "color": {"field": "year", "type": "nominal", "scale": {"domain": ["2022","2023","2024"], "range": ["#2EA9E0","#1B2F5E","#E5232B"]}, "legend": {"legendX": 20, "legendY": -20.5, "columnPadding": 14}},
       "strokeDash": {"field": "year", "type": "nominal", "scale": {"domain": ["2022","2023","2024"], "range": [[8,5],[8,5],[1,0]]}}
     }}
  ], "spacing": 0, "bounds": "flush", "resolve": {"scale": {"color": "independent", "strokeDash": "independent"}}},
  {"width": 1, "height": 6.75, "data": {"values": []}, "mark": "point", "encoding": {}},
  {"hconcat": [
    {"width": 57, "height": 1, "data": {"values": []}, "mark": "point", "encoding": {}},
    {"width": 336, "height": 20, "data": {"values": [{"label": "资料来源：波罗的海交易所，华泰研究"}]},
     "encoding": {"y": {"datum": 1, "type": "quantitative", "scale": {"domain": [0, 1]}, "axis": null}},
     "layer": [
       {"mark": {"type": "text", "align": "left", "baseline": "middle", "dx": 3, "dy": 8, "font": "Noto Sans CJK SC", "fontSize": 9.5, "color": "#999999"}, "encoding": {"x": {"datum": 0, "type": "quantitative", "scale": {"domain": [0, 1]}, "axis": null}, "text": {"field": "label"}}},
       {"mark": {"type": "rule", "color": "#A7B7CC", "strokeWidth": 1.5}, "encoding": {}}
     ]},
    {"width": 17, "height": 1, "data": {"values": []}, "mark": "point", "encoding": {}},
    {"width": 335, "height": 20, "data": {"values": [{"label": "资料来源：波罗的海交易所，华泰研究"}]},
     "encoding": {"y": {"datum": 1, "type": "quantitative", "scale": {"domain": [0, 1]}, "axis": null}},
     "layer": [
       {"mark": {"type": "text", "align": "left", "baseline": "middle", "dx": 3, "dy": 8, "font": "Noto Sans CJK SC", "fontSize": 9.5, "color": "#999999"}, "encoding": {"x": {"datum": 0, "type": "quantitative", "scale": {"domain": [0, 1]}, "axis": null}, "text": {"field": "label"}}},
       {"mark": {"type": "rule", "color": "#A7B7CC", "strokeWidth": 1.5}, "encoding": {}}
     ]}
  ], "spacing": 0, "bounds": "flush"},
  {"width": 1, "height": 103.25, "data": {"values": []}, "mark": "point", "encoding": {}},
  {"hconcat": [
    {"width": 57, "height": 1, "data": {"values": []}, "mark": "point", "encoding": {}},
    {"width": 688, "height": 30, "data": {"values": [{"note": "免责声明和披露以及分析师声明是报告的一部分，请务必一起阅读。", "page": "7"}]},
     "encoding": {"y": {"datum": 1, "type": "quantitative", "scale": {"domain": [0, 1]}, "axis": null}},
     "layer": [
       {"mark": {"type": "rule", "color": "#1B3A6B", "strokeWidth": 2.5}, "encoding": {}},
       {"mark": {"type": "text", "align": "left", "baseline": "middle", "dy": 13, "font": "Noto Sans CJK SC", "fontSize": 10.5, "fontStyle": "italic", "color": "#222222"}, "encoding": {"x": {"datum": 0, "type": "quantitative", "scale": {"domain": [0, 1]}, "axis": null}, "text": {"field": "note"}}},
       {"mark": {"type": "text", "align": "right", "baseline": "middle", "dy": 13, "font": "Liberation Sans", "fontSize": 14, "color": "#222222"}, "encoding": {"x": {"datum": 1, "type": "quantitative", "scale": {"domain": [0, 1]}, "axis": null}, "text": {"field": "page"}}}
     ]}
  ], "spacing": 0, "bounds": "flush"}
]
}
